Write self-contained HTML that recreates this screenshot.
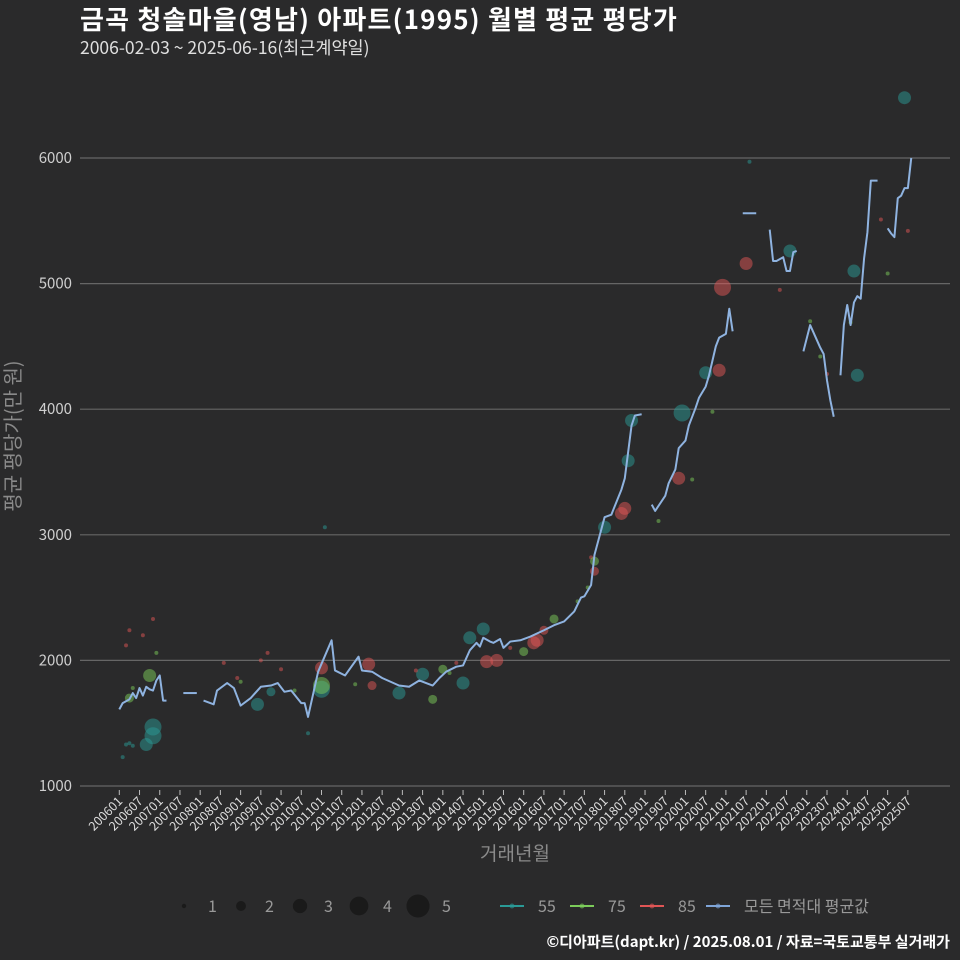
<!DOCTYPE html>
<html><head><meta charset="utf-8">
<style>
html,body{margin:0;padding:0;background:#2a2a2b;}
svg{display:block;font-family:"Noto Sans CJK KR","Liberation Sans",sans-serif;}
</style></head>
<body>
<svg id="chart" width="960" height="960" viewBox="0 0 960 960" xmlns="http://www.w3.org/2000/svg">
<rect width="960" height="960" fill="#2a2a2b"/>
<text x="80" y="29" fill="#ffffff" font-size="26" font-weight="bold" letter-spacing="1.2">금곡 청솔마을(영남) 아파트(1995) 월별 평균 평당가</text>
<text x="80" y="54" fill="#e0e0e0" font-size="17.5">2006-02-03 ~ 2025-06-16(최근계약일)</text>
<g id="grid"></g>
<g id="yticks"></g>
<g id="xticks"></g>
<g id="points"></g>
<g id="line"></g>
<text transform="translate(20,436) rotate(-90)" text-anchor="middle" fill="#8a8a8a" font-size="20" font-family="Noto Sans CJK KR, sans-serif">평균 평당가(만 원)</text>
<text x="515" y="860" text-anchor="middle" fill="#8a8a8a" font-size="19">거래년월</text>
<g id="legend"></g>
<text x="950" y="947" text-anchor="end" fill="#ffffff" font-size="15" font-weight="bold">©디아파트(dapt.kr) / 2025.08.01 / 자료=국토교통부 실거래가</text>
</svg>
<script>
// y ticks
const yTicks = [1000, 2000, 3000, 4000, 5000, 6000];
// x tick labels every 6 months from 200601
const xTickLabels = [];
for (let y = 2006; y <= 2025; y++) { xTickLabels.push(y + "01"); xTickLabels.push(y + "07"); }
// average line: month index (0 = 2006-01), value; null = gap
const avgMonths = [0,1,3,4,5,6,7,8,9,10,11,12,13,14,null,19,23,null,
25,28,29,32,34,35,36,39,42,45,47,49,51,54,55,56,59,63,64,67,71,72,75,78,83,86,89,93,95,97,100,102,104,106,107,108,110,111,113,114,116,119,122,126,129,132,135,137,138,140,141,144,146,149,150,152,153,155,null,
158,159,162,163,165,166,168,169,171,172,174,175,177,178,180,181,182,null,
185,189,null,193,194,195,197,198,199,200,201,null,
203,205,206,208,209,210,211,212,null,
214,215,216,217,218,219,220,221,222,223,225,null,
228,229,230,231,232,233,234,235];
const avgValues = [1610,1660,1690,1740,1700,1780,1720,1790,1770,1760,1840,1880,1680,1680,null,1740,1740,null,
1680,1650,1760,1820,1780,1710,1640,1700,1790,1800,1820,1750,1760,1660,1660,1550,1910,2160,1920,1880,2030,1920,1910,1860,1800,1790,1840,1800,1860,1910,1950,1960,2080,2140,2110,2180,2150,2140,2170,2100,2150,2160,2190,2240,2280,2310,2390,2500,2510,2600,2840,3140,3160,3360,3450,3870,3950,3960,null,
3240,3190,3310,3410,3520,3690,3750,3870,4010,4090,4180,4270,4500,4570,4600,4800,4620,null,
5560,5560,null,5430,5180,5180,5210,5100,5100,5250,5260,null,
4460,4670,4610,4490,4440,4230,4070,3940,null,
4270,4670,4830,4670,4850,4900,4880,5200,5410,5820,5820,null,
5440,5400,5370,5680,5700,5760,5760,6000];
// scatter: month, value, count(size 1-5), area type
const ptMonths = [1,2,3,4,8,10,10,41,45,56,61,60,83,90,102,104,108,144,151,152,167,174,187,199,218,219,233,
179,186,178,166,150,149,141,60,74,109,112,124,123,126,2,3,7,10,31,35,42,44,48,75,88,100,116,140,196,210,226,234,
9,3,60,93,96,129,120,141,4,11,36,52,70,98,136,139,160,170,176,205,208,217,228];
const ptValues = [1230,1330,1340,1320,1330,1400,1470,1650,1750,1420,3060,1770,1740,1890,1820,2180,2250,3060,3590,3910,3970,4290,5970,5260,5100,4270,6480,
4970,5160,4310,3450,3210,3170,2710,1940,1970,1990,2000,2160,2140,2240,2120,2240,2200,2330,1980,1860,2000,2060,1930,1800,1920,1980,2100,2820,4950,4280,5510,5420,
1880,1700,1800,1690,1930,2330,2070,2790,1780,2060,1830,1760,1810,1900,2470,2580,3110,3440,3980,4700,4420,4690,5080];
const ptSizes = [1,1,1,1,3,4,4,3,2,1,1,4,3,3,3,3,3,3,3,3,4,3,1,3,3,3,3,
4,3,3,3,3,3,2,3,3,3,3,3,3,2,1,1,1,1,1,1,1,1,1,2,1,1,1,1,1,1,1,1,
3,2,4,2,2,2,2,2,1,1,1,1,1,1,1,1,1,1,1,1,1,1,1];
const ptTypes = ["55","55","55","55","55","55","55","55","55","55","55","55","55","55","55","55","55","55","55","55","55","55","55","55","55","55","55",
"85","85","85","85","85","85","85","85","85","85","85","85","85","85","85","85","85","85","85","85","85","85","85","85","85","85","85","85","85","85","85","85",
"75","75","75","75","75","75","75","75","75","75","75","75","75","75","75","75","75","75","75","75","75","75","75"];

const NS = "http://www.w3.org/2000/svg";
const X0 = 119.3, PXM = 3.37;
const xs = m => X0 + m * PXM;
const ys = v => 786 - (v - 1000) * 0.1256;
const rad = s => [0, 2, 4.5, 6.5, 8.5, 10.5][s];
const colors = {"55": "#2a9a96", "75": "#7ccc5a", "85": "#e05555"};
function mk(tag, attrs, parent) { const e = document.createElementNS(NS, tag); for (const k in attrs) e.setAttribute(k, attrs[k]); parent.appendChild(e); return e; }

const grid = document.getElementById('grid'), yt = document.getElementById('yticks');
yTicks.forEach(v => {
  const l = mk('line', {x1: 80, x2: 950, y1: ys(v), y2: ys(v), stroke: '#666', 'stroke-width': 1.2}, grid);
  
  
  const t = mk('text', {x: 72, y: ys(v) + 5, 'text-anchor': 'end', fill: '#cfcfcf', 'font-size': 15}, yt);
  t.textContent = v;
  
  
});
const xt = document.getElementById('xticks');
xTickLabels.forEach((lab, i) => {
  const x = xs(i * 6);
  const tk = mk('line', {x1: x, x2: x, y1: 790, y2: 795, stroke: '#bbb', 'stroke-width': 1}, xt);
  
  
  const t = mk('text', {transform: `translate(${x + 4},${802}) rotate(-45)`, 'text-anchor': 'end', fill: '#dcdcdc', 'font-size': 12.5}, xt);
  t.textContent = lab;
  
  
});
const pg = document.getElementById('points');
ptMonths.forEach((m, i) => {
  const c = mk('circle', {cx: xs(m), cy: ys(ptValues[i]), r: rad(ptSizes[i]), fill: colors[ptTypes[i]], 'fill-opacity': 0.5}, pg);
  
  
});
const lg = document.getElementById('line');
let seg = [];
function flush() { if (seg.length) { const p = mk('polyline', {points: seg.join(' '), fill: 'none', stroke: '#8fb3e0', 'stroke-width': 2, 'stroke-linejoin': 'round'}, lg);   } seg = []; }
avgMonths.forEach((m, i) => { if (m === null) flush(); else seg.push(xs(m) + ',' + ys(avgValues[i])); });
flush();

const leg = document.getElementById('legend');
const sizeX = [184, 241, 300, 359, 418];
sizeX.forEach((x, i) => {
  const c = mk('circle', {cx: x, cy: 906, r: rad(i + 1) * 1.1, fill: '#1a1a1a'}, leg);
  
  
  const t = mk('text', {x: x + 24, y: 912, fill: '#999', 'font-size': 16}, leg);
  t.textContent = i + 1;
  
  
});
const lineLeg = [["55", 512, "#2a9a96"], ["75", 582, "#7ccc5a"], ["85", 652, "#e05555"], ["모든 면적대 평균값", 718, "#7fa5d8"]];
lineLeg.forEach(([lab, x, col]) => {
  const l = mk('line', {x1: x - 12, x2: x + 12, y1: 906, y2: 906, stroke: col, 'stroke-width': 2}, leg);
  
  
  mk('circle', {cx: x, cy: 906, r: 2.5, fill: col, 'fill-opacity': 0.6}, leg);
  const t = mk('text', {x: x + 26, y: 912, fill: '#999', 'font-size': 16}, leg);
  t.textContent = lab;
  
  
});
</script>
</body></html>
